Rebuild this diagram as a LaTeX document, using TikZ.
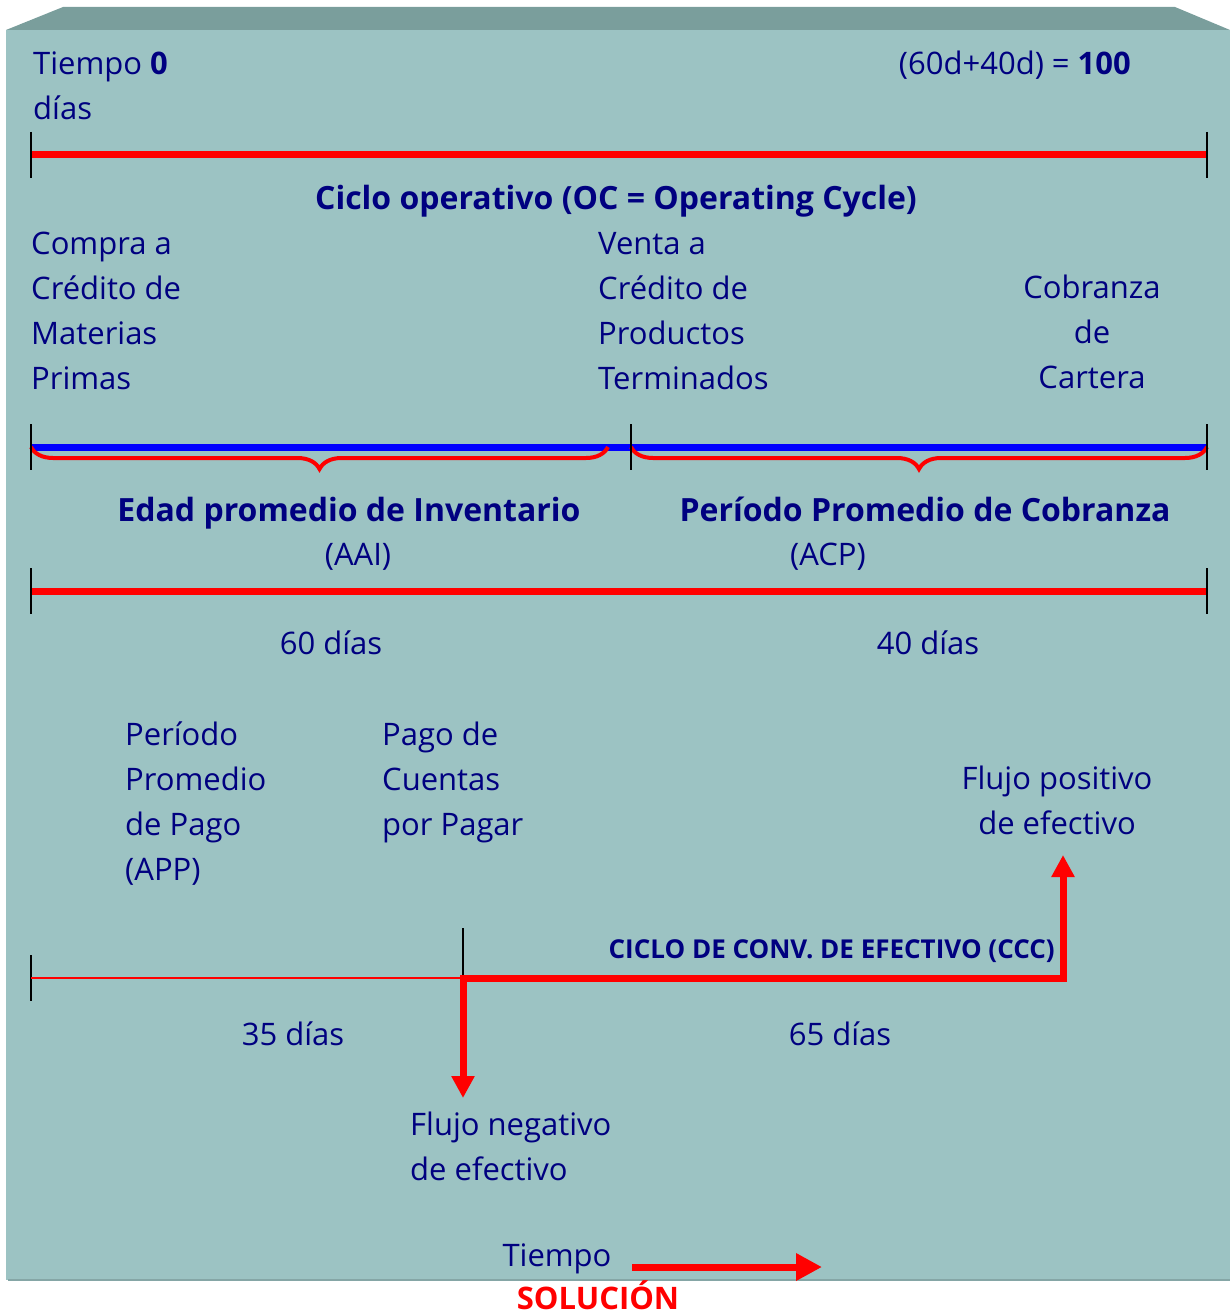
\documentclass[tikz,border=0pt]{standalone}
\usepackage{fontspec}
\setmainfont{Open Sans}
\usepackage{tikz}
\usetikzlibrary{positioning,arrows.meta}
\usetikzlibrary{decorations.pathreplacing}
\definecolor{navy}{RGB}{0,0,128}
\definecolor{boxfront}{RGB}{156,195,195}
\definecolor{boxtop}{RGB}{122,158,156}

\begin{document}
\begin{tikzpicture}[x=1pt,y=-1pt]
    \tikzset{txt/.style={text=navy,inner sep=0pt,font=\fontsize{31}{45}\selectfont},
             btxt/.style={txt,font=\fontsize{32}{45}\selectfont\bfseries},
             bar/.style={draw=red,line width=7pt},
             tick/.style={draw=black,line width=2pt},
             lbrace/.style={draw=red,line width=4pt,decorate,decoration={brace,mirror,amplitude=22pt}}}
    \useasboundingbox (0,0) rectangle (1230,1316);
    % la caja
    \fill[boxtop] (6,30) -- (63,7) -- (1175,7) -- (1230,30) -- cycle;
    \fill[boxfront] (6,30) rectangle (1230,1280);
    \draw[boxfront!85!black,line width=2pt] (8,1280) -- (1230,1280);

    % textos (base = linea de base de la ultima linea)
    \node[txt,anchor=base west,align=left] (tiempoIni) at (33,120) {Tiempo \textbf{0}\\días};
    \node[txt,anchor=base east] (tiempoFin) at (1131,75) {(60d+40d) = \textbf{100}};
    \node[btxt,anchor=base] (ciclo) at (616,209) {Ciclo operativo (OC = Operating Cycle)};
    \node[txt,anchor=base west,align=left] (compra) at (31,389) {Compra a\\Crédito de\\Materias\\Primas};
    \node[txt,anchor=base west,align=left] (venta) at (598,389) {Venta a\\Crédito de\\Productos\\Terminados};
    \node[txt,anchor=base,align=center] (cobranza) at (1092,388) {Cobranza\\de\\Cartera};
    \node[btxt,anchor=base] (edad) at (349,521) {Edad promedio de Inventario};
    \node[txt,anchor=base] (aai) at (358,565) {(AAI)};
    \node[btxt,anchor=base] (periodo) at (925,521) {Período Promedio de Cobranza};
    \node[txt,anchor=base] (acp) at (828,565) {(ACP)};
    \node[txt,anchor=base] (dias60) at (331,654) {60 días};
    \node[txt,anchor=base] (dias40) at (928,654) {40 días};
    \node[txt,anchor=base west,align=left] (app) at (125,880) {Período\\Promedio\\de Pago\\(APP)};
    \node[txt,anchor=base west,align=left] (pago) at (382,835) {Pago de\\Cuentas\\por Pagar};
    \node[txt,anchor=base,align=center] (flujoPos) at (1057,834) {Flujo positivo\\de efectivo};
    \node[txt,anchor=base east,font=\fontsize{26}{30}\selectfont\bfseries] (ccc) at (1055,958) {CICLO DE CONV. DE EFECTIVO (CCC)};
    \node[txt,anchor=base] (dias35) at (293,1045) {35 días};
    \node[txt,anchor=base] (dias65) at (840,1045) {65 días};
    \node[txt,anchor=base west,align=left] (flujoNeg) at (410,1180) {Flujo negativo\\de efectivo};
    \node[txt,anchor=base] (tiempo) at (557,1266) {Tiempo};
    \node[inner sep=0pt,text=red,anchor=base,font=\fontsize{31}{34}\selectfont\bfseries] (solucion) at (598,1309) {SOLUCIÓN};

    \coordinate (oc0) at (31,155);
    \coordinate (oc1) at (1207,155);
    \coordinate (b0) at (31,447);
    \coordinate (b1) at (631,447);
    \coordinate (b2) at (1207,447);
    \coordinate (r0) at (31,591);
    \coordinate (r1) at (1207,591);
    \coordinate (c0) at (31,978);
    \coordinate (c1) at (463,978);
    \coordinate (c2) at (1063,978);
    \coordinate (neg) at (463,1098);
    \coordinate (pos) at (1063,855);
    \coordinate (t0) at (632,1267);
    \coordinate (t1) at (822,1267);

    \draw[bar] (oc0) -- (oc1);
    \draw[bar,draw=blue] (b0) -- (b2);
    \draw[lbrace] (b0) -- ([xshift=-23pt]b1);
    \draw[lbrace] (b1) -- (b2);
    \draw[bar] (r0) -- (r1);
    \foreach \c in {oc0,oc1,b0,b1,b2,r0,r1,c0}
      \draw[tick] ([yshift=23pt]\c) -- ([yshift=-23pt]\c);
    \draw[tick] ([yshift=50pt]c1) -- (c1);

    \draw[red,line width=2pt] (c0) -- (c1);
    \draw[bar,line join=miter,{Triangle[length=22pt,width=22pt]}-{Triangle[length=22pt,width=22pt]}]
      (neg) -- (c1) -- (c2) -- (pos);
    \draw[bar,-{Triangle[length=26pt,width=26pt]}] (t0) -- (t1);
\end{tikzpicture}
\end{document}
